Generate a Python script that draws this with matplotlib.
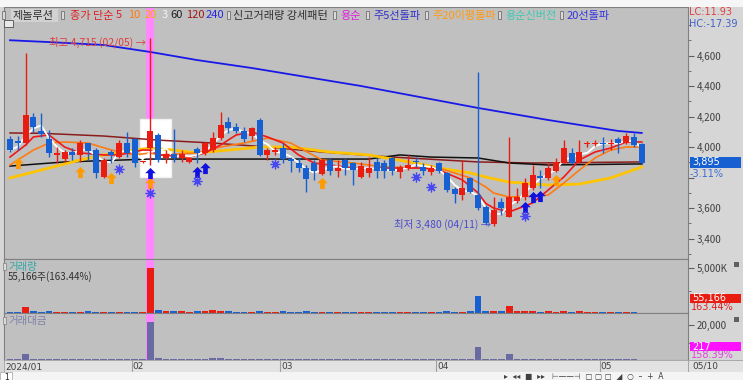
import matplotlib
matplotlib.use('Agg')
import matplotlib.pyplot as plt
import numpy as np
import pandas as pd
from matplotlib.patches import Rectangle
from matplotlib.path import Path

plt.rcParams['font.family'] = ['Noto Sans CJK KR', 'DejaVu Sans']

# ---------------- data ----------------
opens = [4050, 4040, 4025, 4195, 4105, 4050, 3950, 3920, 3965, 3950, 4025, 3980, 3805, 3965, 3935, 4025,
         4050, 3900, 3995, 4080, 3930, 3955, 3930, 3900, 3985, 3960, 3980, 4060, 4165, 4130, 4105, 4070,
         4175, 3950, 3965, 3995, 3920, 3895, 3860, 3895, 3825, 3915, 3845, 3915, 3895, 3805, 3830, 3900,
         3895, 3930, 3835, 3860, 3905, 3870, 3835, 3895, 3830, 3725, 3685, 3795, 3685, 3605, 3495, 3640,
         3540, 3645, 3670, 3730, 3810, 3795, 3845, 3895, 3960, 3900, 4020, 4020, 4025, 4020, 4050, 4025,
         4065, 4020]
highs = [4070, 4070, 4615, 4225, 4225, 4110, 4000, 3980, 3995, 4045, 4025, 3995, 3930, 3980, 4045, 4100,
         4060, 3910, 4715, 4090, 3980, 4120, 3980, 3935, 4000, 4035, 4100, 4230, 4195, 4155, 4130, 4130,
         4190, 3995, 4000, 4025, 3935, 3930, 3880, 3915, 3930, 3930, 3915, 3930, 3900, 3900, 3935, 3930,
         3915, 3935, 3880, 3950, 3935, 3895, 3880, 3900, 3835, 3740, 3915, 3805, 4490, 3620, 3670, 3665,
         4065, 3730, 3795, 3880, 3850, 3895, 3930, 4045, 3995, 4045, 4040, 4045, 4065, 4050, 4065, 4090,
         4090, 4025]
lows = [3965, 3980, 4010, 4100, 4065, 3935, 3895, 3900, 3915, 3900, 3915, 3795, 3795, 3895, 3930, 3935,
        3870, 3895, 3880, 3900, 3895, 3900, 3900, 3895, 3895, 3950, 3965, 4045, 4090, 4090, 4035, 4045,
        3940, 3915, 3950, 3895, 3835, 3835, 3705, 3785, 3815, 3815, 3805, 3815, 3750, 3795, 3805, 3795,
        3795, 3815, 3795, 3850, 3870, 3815, 3815, 3830, 3705, 3635, 3650, 3700, 3585, 3490, 3480, 3555,
        3540, 3635, 3650, 3720, 3730, 3785, 3835, 3895, 3890, 3895, 4000, 4005, 3960, 3980, 3960, 4020,
        4000, 3890]
closes = [3980, 4025, 4210, 4130, 4085, 3960, 3960, 3965, 3950, 4025, 3975, 3830, 3915, 3950, 4025, 3960,
          3895, 3905, 4105, 3915, 3955, 3930, 3955, 3930, 3960, 4025, 4060, 4145, 4125, 4105, 4050, 4125,
          3950, 3980, 3980, 3920, 3910, 3860, 3790, 3845, 3915, 3845, 3860, 3860, 3850, 3875, 3860, 3845,
          3845, 3845, 3870, 3880, 3900, 3845, 3860, 3845, 3720, 3690, 3730, 3705, 3600, 3500, 3585, 3600,
          3670, 3670, 3765, 3815, 3795, 3860, 3900, 3995, 3895, 3965, 4025, 4025, 4020, 4025, 4025, 4070,
          4015, 3895]
volume_k = [150, 120, 700, 180, 160, 170, 150, 160, 110, 140, 170, 150, 130, 120, 140, 120,
            150, 110, 5050, 330, 220, 200, 180, 160, 170, 180, 350, 230, 180, 160, 150, 150,
            170, 150, 150, 180, 130, 150, 170, 140, 150, 120, 140, 150, 140, 150, 110, 130,
            140, 150, 120, 150, 110, 130, 150, 140, 170, 160, 150, 180, 1900, 220, 200, 180,
            800, 200, 190, 200, 160, 170, 160, 180, 150, 170, 140, 130, 150, 120, 140, 150,
            130, 55]
value_m = [600, 500, 3300, 700, 650, 650, 600, 620, 450, 560, 660, 580, 520, 480, 560, 480,
           580, 430, 21500, 1300, 850, 780, 700, 620, 660, 720, 1400, 950, 750, 660, 610, 620,
           680, 590, 590, 700, 510, 580, 640, 540, 580, 460, 540, 580, 540, 580, 420, 500,
           540, 580, 460, 580, 430, 500, 580, 540, 630, 590, 550, 660, 7400, 780, 700, 650,
           3300, 730, 710, 760, 610, 650, 620, 710, 590, 670, 560, 520, 600, 480, 560, 600,
           520, 217]

# moving averages (index, price)
ma5_i = [0, 2, 3, 5, 7, 9, 12, 14, 17, 18, 19, 23, 25, 27, 29, 31, 33, 35, 37, 39, 41, 44, 48, 53, 55,
         58, 60, 61, 62, 64, 67, 69, 71, 73, 75, 77, 79, 81]
ma5_v = [3934, 4013, 4066, 4079, 4000, 3961, 3948, 3948, 3980, 3980, 3948, 3934, 3961, 4013, 4079, 4098,
         4066, 4026, 3948, 3895, 3882, 3862, 3862, 3862, 3849, 3784, 3700, 3630, 3600, 3574, 3633, 3718,
         3803, 3915, 3967, 3993, 4033, 4033]
ma10_i = [0, 3, 5, 7, 10, 13, 16, 18, 19, 24, 27, 30, 33, 36, 38, 40, 44, 48, 55, 59, 61, 62, 64, 69,
          71, 73, 75, 77, 79, 81]
ma10_v = [3882, 3980, 4026, 4033, 4026, 3980, 3948, 3961, 3948, 3961, 4000, 4026, 4059, 4026, 3970,
          3915, 3895, 3869, 3862, 3797, 3738, 3698, 3672, 3685, 3764, 3849, 3928, 3980, 4000, 4000]
ma20_i = [0, 5, 9, 12, 16, 18, 21, 24, 28, 32, 36, 41, 46, 52, 55, 59, 61, 64, 69, 73, 77, 81]
ma20_v = [3797, 3862, 3915, 3948, 3980, 3993, 3980, 3961, 3980, 4000, 4000, 3967, 3948, 3895, 3862,
          3830, 3803, 3770, 3751, 3757, 3797, 3869]
ma60_i = [0, 7, 18, 30, 46, 50, 54, 60, 64, 69, 81]
ma60_v = [3875, 3902, 3921, 3921, 3921, 3948, 3934, 3928, 3895, 3882, 3889]
ma120_i = [0, 4, 12, 19, 26, 33, 40, 49, 60, 67, 81]
ma120_v = [4092, 4090, 4072, 4045, 4026, 4000, 3967, 3934, 3902, 3895, 3902]
ma240_i = [0, 5, 12, 18, 24, 31, 45, 60, 69, 78, 81]
ma240_v = [4700, 4688, 4669, 4623, 4570, 4518, 4400, 4256, 4177, 4105, 4092]

# signal markers (index, price)
orange_up_i = [1, 9, 13, 18, 40, 70]
orange_up_v = [3895, 3836, 3797, 3764, 3764, 3784]
blue_up_i = [18, 24, 25, 66, 67, 68]
blue_up_v = [3830, 3836, 3862, 3607, 3672, 3679]
star_i = [18, 14, 24, 34, 52, 54, 66]
star_v = [3698, 3856, 3777, 3889, 3803, 3738, 3548]

month_start = [0, 16, 35, 55, 76]
month_labels = ['2024/01', '02', '03', '04', '05']
price_ticks = [3400, 3600, 3800, 4000, 4200, 4400, 4600]
hi_idx, lo_idx = 18, 62

# ---------------- layout ----------------
W, H = 743, 380
fig = plt.figure(figsize=(W / 100, H / 100), dpi=100)
fig.patch.set_facecolor('#D6D6D6')


def add_ax(x0, y0, x1, y1):
    return fig.add_axes([x0 / W, 1 - y1 / H, (x1 - x0) / W, (y1 - y0) / H])


def ftext(x, y, s, **kw):
    kw.setdefault('va', 'center')
    kw.setdefault('ha', 'left')
    return fig.text(x / W, 1 - y / H, s, **kw)


def frect(x, y, w, h, **kw):
    r = Rectangle((x / W, 1 - (y + h) / H), w / W, h / H, transform=fig.transFigure, **kw)
    fig.add_artist(r)
    return r


XL = ((4 - 10) / 7.8, (688 - 10) / 7.8)
BG = '#C0C0C0'
RED = '#E81C10'
BLUE = '#1660D2'
PINK = '#FF88FF'
SPINE = '#808080'

# top strip
frect(0, 0, W, 7, facecolor='#F6F6F6', edgecolor='none')

n = len(closes)
idx = np.arange(n)
o = np.array(opens); c = np.array(closes); hi = np.array(highs); lo = np.array(lows)
up = c >= o
cols = np.where(up, RED, BLUE)

# ---------------- main price panel ----------------
ax = add_ax(4, 7, 688, 259)
ax.set_facecolor(BG)
ax.set_xlim(*XL)
ax.set_ylim(4000 - (259 - 147) / 0.1525, 4000 + (147 - 7) / 0.1525)
ax.axvspan(hi_idx - 0.5, hi_idx + 0.5, color=PINK, zorder=0.5, lw=0)
ax.add_patch(Rectangle((hi_idx - 1.3, 3803), 4.0, 381, facecolor='white', edgecolor='#F0F0F0', zorder=1))

ax.plot(ma240_i, ma240_v, color='#1818E8', lw=1.3, zorder=2)
ax.plot(ma120_i, ma120_v, color='#8C1C1C', lw=1.1, zorder=2)
ax.plot(ma60_i, ma60_v, color='#101010', lw=1.1, zorder=2)
ax.plot(ma20_i, ma20_v, color='#FFC400', lw=2.0, zorder=2)
ax.plot(ma10_i, ma10_v, color='#FF7A10', lw=1.2, zorder=2)
ax.plot(ma5_i, ma5_v, color='#F01818', lw=1.2, zorder=2.1)
ma3 = pd.Series(closes).rolling(3, min_periods=1).mean()
ax.plot(idx, ma3, color='white', lw=1.3, zorder=2.2)

ax.vlines(idx, lo, hi, colors=cols, lw=1, zorder=3)
body_h = np.maximum(np.abs(c - o), 9)
ax.bar(idx, body_h, bottom=np.minimum(o, c), width=0.76, color=cols, lw=0, zorder=3.1)

arrow = Path([(0, 1), (-0.95, 0.05), (-0.42, 0.05), (-0.42, -1), (0.42, -1), (0.42, 0.05), (0.95, 0.05), (0, 1)],
             [Path.MOVETO] + [Path.LINETO] * 6 + [Path.CLOSEPOLY])
ax.plot(orange_up_i, orange_up_v, ls='none', marker=arrow, ms=8, color='#FF9A00', mew=0, zorder=4)
ax.plot(blue_up_i, blue_up_v, ls='none', marker=arrow, ms=8, color='#1010E0', mew=0, zorder=4)
ax.plot(star_i, star_v, ls='none', marker=(8, 2, 0), ms=7, color='#4848F0', mew=0.9, zorder=4)

ax.text(hi_idx - 0.6, highs[hi_idx] - 25, '최고 4,715 (02/05) →', ha='right', va='center',
        color='#E23C3C', fontsize=7.5, zorder=5)
ax.text(lo_idx - 0.3, lows[lo_idx] + 15, '최저 3,480 (04/11) →', ha='right', va='center',
        color='#4B4BCF', fontsize=7.5, zorder=5)

ax.set_xticks([])
ax.set_yticks(price_ticks)
ax.set_yticklabels([f'{v:,}' if v != 3800 else '' for v in price_ticks])
ax.set_yticks(np.arange(3300, 4900, 100), minor=True)
ax.yaxis.tick_right()
ax.tick_params(axis='y', which='major', length=4, color='#606060', labelsize=7, labelcolor='#404040', pad=2)
ax.tick_params(axis='y', which='minor', length=2, color='#606060')
for s in ax.spines.values():
    s.set_color(SPINE)
    s.set_linewidth(0.8)

# ---------------- volume panel ----------------
axv = add_ax(4, 259, 688, 313)
axv.set_facecolor(BG)
axv.set_xlim(*XL)
axv.set_ylim(0, 5000 * 54 / 45)
axv.axvspan(hi_idx - 0.5, hi_idx + 0.5, color=PINK, zorder=0.5, lw=0)
axv.bar(idx, volume_k, width=0.86, color=cols, lw=0, zorder=2)
axv.set_xticks([])
axv.set_yticks([5000])
axv.set_yticklabels(['5,000K'])
axv.set_yticks([2500], minor=True)
axv.yaxis.tick_right()
axv.tick_params(axis='y', which='major', length=4, color='#606060', labelsize=7, labelcolor='#404040', pad=2)
axv.tick_params(axis='y', which='minor', length=2, color='#606060')
for s in axv.spines.values():
    s.set_color(SPINE)
    s.set_linewidth(0.8)

# ---------------- trading value panel ----------------
axm = add_ax(4, 313, 688, 360)
axm.set_facecolor(BG)
axm.set_xlim(*XL)
axm.set_ylim(0, 20000 * 47 / 35)
axm.axvspan(hi_idx - 0.5, hi_idx + 0.5, color=PINK, zorder=0.5, lw=0)
axm.bar(idx, value_m, width=0.86, color='#6A6AA2', lw=0, zorder=2)
axm.set_xticks([])
axm.set_yticks([20000])
axm.set_yticklabels(['20,000'])
axm.set_yticks([10000], minor=True)
axm.yaxis.tick_right()
axm.tick_params(axis='y', which='major', length=4, color='#606060', labelsize=7, labelcolor='#404040', pad=2)
axm.tick_params(axis='y', which='minor', length=2, color='#606060')
for s in axm.spines.values():
    s.set_color(SPINE)
    s.set_linewidth(0.8)

# ---------------- x axis strip ----------------
axx = add_ax(4, 360, 688, 372)
axx.set_facecolor('#E2E2E2')
axx.set_xlim(*XL)
axx.set_ylim(0, 1)
axx.set_xticks([]); axx.set_yticks([])
for s in axx.spines.values():
    s.set_color('#A0A0A0'); s.set_linewidth(0.6)
for mi, lab in zip(month_start, month_labels):
    xpos = mi - 0.4 if mi > 0 else XL[0] + 0.05
    if mi > 0:
        axx.axvline(xpos, color='#A0A0A0', lw=0.8)
    axx.text(xpos + 0.15, 0.45, lab, fontsize=6.5, color='#404040', va='center', ha='left',
             family=['DejaVu Sans'])
frect(688, 360, 55, 12, facecolor='#E2E2E2', edgecolor='#A0A0A0', lw=0.6)
ftext(692, 366, '05/10', fontsize=6.5, color='#404040', family=['DejaVu Sans'])

# bottom toolbar
frect(0, 372, W, 8, facecolor='#F4F4F4', edgecolor='none')
frect(0, 372, 12, 8, facecolor='#FFFFFF', edgecolor='#A0A0A0', lw=0.5)
ftext(4, 377, '1', fontsize=5.5, color='#202020', family=['DejaVu Sans'])
ftext(504, 377, '▸  ◂◂  ■  ▸▸   ⊢——⊣  ▢ ▢ ▢  ◢  ○  –  +  A', fontsize=5.5,
      color='#404040', family=['DejaVu Sans'])

# ---------------- legend row ----------------
legend_items = [
    (13, '제놀루션', '#303030'),
    (70, '종가 단순', '#E02020'),
    (116, '5', '#E02020'),
    (128, '10', '#FF7A10'),
    (145, '20', '#F0B000'),
    (162, '3', '#F4F4F4'),
    (170, '60', '#202020'),
    (186, '120', '#A01818'),
    (206, '240', '#2828E0'),
    (233, '신고거래량 강세패턴', '#303030'),
    (340, '용순', '#E020E0'),
    (373, '주5선돌파', '#3030C8'),
    (432, '주20이평돌파', '#FF9A10'),
    (505, '용순신버전', '#3CC8B0'),
    (567, '20선돌파', '#3434E0'),
]
frect(11, 9, 47, 13, facecolor='#D2D2D2', edgecolor='none')
for x, s, col in legend_items:
    ftext(x, 15.5, s, fontsize=8, color=col)
for x in [2, 61, 227, 333, 366, 425, 498, 560]:
    frect(x, 11, 3, 8, facecolor='#DADADA', edgecolor='#707070', lw=0.6)
frect(4, 20, 9, 7, facecolor='#E8E8E8', edgecolor='#505050', lw=0.6)

ftext(689, 12, 'LC:11.93', fontsize=7, color='#E04040', family=['DejaVu Sans'])
ftext(689, 24, 'HC:-17.39', fontsize=7, color='#4060C8', family=['DejaVu Sans'])

# current price label
frect(690, 157, 51, 11, facecolor='#1660D2', edgecolor='none')
ftext(692, 162.5, f'{closes[-1]:,}', fontsize=7, color='white', family=['DejaVu Sans'])
ftext(690, 174, '-3.11%', fontsize=7, color='#3C6CD0', family=['DejaVu Sans'])

# volume labels
ftext(8, 267, '거래량', fontsize=7.5, color='#30A8A8')
frect(3, 263, 3, 7, facecolor='#DADADA', edgecolor='#808080', lw=0.5)
ftext(8, 277, '55,166주(163.44%)', fontsize=7, color='#303030')
frect(690, 294, 51, 9, facecolor='#E81C10', edgecolor='none')
ftext(692, 298.5, '55,166', fontsize=7, color='white', family=['DejaVu Sans'])
ftext(691, 307, '163.44%', fontsize=7, color='#E02020', family=['DejaVu Sans'])
frect(734, 262, 5, 5, facecolor='#606060', edgecolor='none')

# value labels
ftext(8, 321, '거래대금', fontsize=7.5, color='#8080A8')
frect(3, 317, 3, 7, facecolor='#DADADA', edgecolor='#808080', lw=0.5)
frect(690, 342, 51, 9, facecolor='#FF10FF', edgecolor='none')
ftext(692, 346.5, f'{value_m[-1]:,}', fontsize=7, color='white', family=['DejaVu Sans'])
ftext(691, 355, '158.39%', fontsize=7, color='#E040E0', family=['DejaVu Sans'])
frect(734, 317, 5, 5, facecolor='#606060', edgecolor='none')

fig.savefig('out.png', dpi=100, facecolor=fig.get_facecolor())
